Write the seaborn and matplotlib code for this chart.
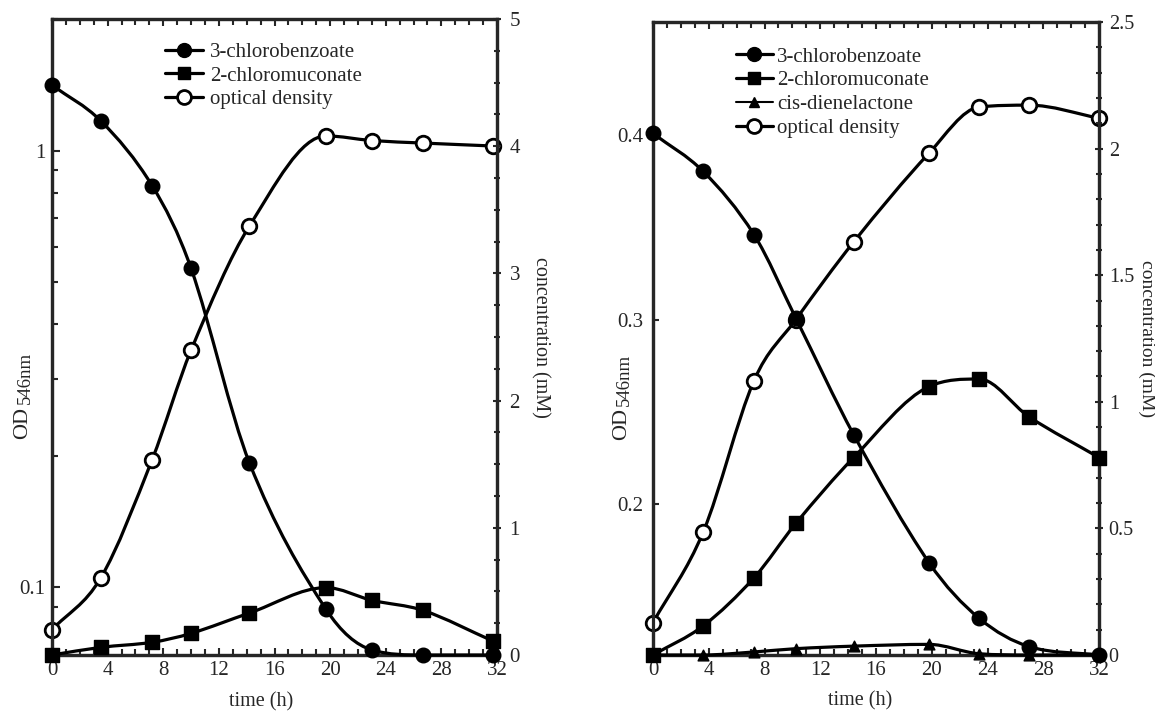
import numpy as np
import matplotlib
matplotlib.use('Agg')
import matplotlib.pyplot as plt
import seaborn as sns
from matplotlib.path import Path
from matplotlib.patches import PathPatch
from matplotlib.lines import Line2D
from matplotlib.ticker import FixedLocator, FixedFormatter, MultipleLocator, NullFormatter

# --- data, left panel ---
time_a = [0, 3.5, 7.2, 10, 14.2, 19.7, 23, 26.7, 31.7]
cb_a = [4.48, 4.20, 3.69, 3.04, 1.51, 0.36, 0.04, 0.0, 0.0]      # 3-chlorobenzoate (mM)
cm_a = [0.0, 0.06, 0.10, 0.17, 0.33, 0.53, 0.43, 0.35, 0.11]     # 2-chloromuconate (mM)
od_a = [0.080, 0.105, 0.196, 0.349, 0.672, 1.08, 1.054, 1.04, 1.024]  # OD546

# --- data, right panel ---
time_b = [0, 3.6, 7.25, 10.25, 14.4, 19.8, 23.4, 27, 32]
cb_b = [2.06, 1.91, 1.66, 1.33, 0.87, 0.365, 0.145, 0.033, 0.0]
cm_b = [0.0, 0.115, 0.305, 0.52, 0.78, 1.06, 1.09, 0.94, 0.78]
dl_b = [0.0, 0.0, 0.012, 0.025, 0.035, 0.042, 0.005, 0.0, 0.0]  # cis-dienelactone
od_b = [0.136, 0.185, 0.267, 0.300, 0.342, 0.390, 0.415, 0.416, 0.409]

time_ticks = [0, 4, 8, 12, 16, 20, 24, 28, 32]
conc_ticks_a = [0, 1, 2, 3, 4, 5]
conc_ticks_b = [0, 0.5, 1, 1.5, 2, 2.5]
conc_labels_b = ['0', '0.5', '1', '1.5', '2', '2.5']
od_ticks_a = [0.1, 1]
od_ticks_b = [0.2, 0.3, 0.4]

sns.set_style('ticks')
plt.rcParams['font.family'] = ['Liberation Serif', 'DejaVu Serif']

LW = 2.3
FS = 15


def smooth_line(ax, x, y, logy=False):
    # smoothed connecting line: cubic hermite (limited central slopes) drawn as bezier segments
    x = np.asarray(x, float)
    y = np.asarray(y, float)
    if logy:
        y = np.log10(y)
    h = np.diff(x)
    d = np.diff(y) / h
    m = np.zeros_like(y)
    m[0], m[-1] = d[0], d[-1]
    for i in range(1, len(y) - 1):
        if d[i - 1] * d[i] > 0:
            c = (y[i + 1] - y[i - 1]) / (x[i + 1] - x[i - 1])
            lim = 3 * min(abs(d[i - 1]), abs(d[i]))
            m[i] = np.sign(c) * min(abs(c), lim)
    verts = [(x[0], y[0])]
    codes = [Path.MOVETO]
    for i in range(len(x) - 1):
        verts += [(x[i] + h[i] / 3, y[i] + m[i] * h[i] / 3),
                  (x[i + 1] - h[i] / 3, y[i + 1] - m[i + 1] * h[i] / 3),
                  (x[i + 1], y[i + 1])]
        codes += [Path.CURVE4] * 3
    verts = np.array(verts)
    if logy:
        verts[:, 1] = 10 ** verts[:, 1]
    ax.add_patch(PathPatch(Path(verts, codes), facecolor='none', edgecolor='black',
                           lw=LW, zorder=3, clip_on=False))


def markers(ax, x, y, marker, face='black', size=110):
    sns.scatterplot(x=x, y=y, ax=ax, marker=marker, s=size, color=face,
                    edgecolor='black', linewidth=2 if face == 'white' else 1,
                    zorder=5, clip_on=False, legend=False)


def style_axes(ax, ax2, xlab_x):
    for a in (ax, ax2):
        for sp in a.spines.values():
            sp.set_linewidth(LW)
            sp.set_visible(True)
    ax.set_xlim(0, 32)
    ax.xaxis.set_major_locator(FixedLocator(time_ticks))
    ax.xaxis.set_minor_locator(MultipleLocator(1))
    ax.tick_params(axis='x', which='both', direction='in', top=True, bottom=True,
                   labelsize=FS, pad=4, width=1.5)
    ax.tick_params(axis='x', which='major', length=5)
    ax.tick_params(axis='x', which='minor', length=4)
    ax.tick_params(axis='y', which='both', direction='in', left=True, right=False,
                   labelsize=FS, width=1.5)
    ax2.tick_params(axis='y', which='both', direction='inout', right=True, left=False,
                    labelsize=FS, width=1.5, pad=6)
    ax2.tick_params(axis='y', which='major', length=6)
    ax2.tick_params(axis='y', which='minor', length=4)
    ax.set_xlabel('time (h)', fontsize=14.5)
    ax.xaxis.set_label_coords(xlab_x, -0.058)


def od_label(ax, xpos, ysplit):
    # "OD" with a lowered, slightly smaller "546nm"
    ax.text(xpos, ysplit, 'OD', transform=ax.transAxes, rotation=90,
            ha='center', va='top', fontsize=16)
    ax.text(xpos + 0.006, ysplit + 0.004, '546nm', transform=ax.transAxes, rotation=90,
            ha='center', va='bottom', fontsize=13.5)


def make_legend(ax, handles, labels, x, y, textpad):
    leg = ax.legend(handles, labels, loc='upper left', bbox_to_anchor=(x, y),
                    frameon=True, fancybox=False, fontsize=FS, handlelength=1.8,
                    handletextpad=textpad, labelspacing=0.2, borderpad=0.05,
                    borderaxespad=0)
    leg.get_frame().set_facecolor('white')
    leg.get_frame().set_edgecolor('none')
    leg.get_frame().set_alpha(1)
    leg.set_zorder(10)
    return leg


fig = plt.figure(figsize=(11.55, 7.15), dpi=100)

# ---------------- left panel ----------------
axA = fig.add_axes([52 / 1155, 60 / 715, 445 / 1155, 636 / 715])
axA2 = axA.twinx()
axA.set_yscale('log')
axA.set_ylim(0.07, 2)
axA.yaxis.set_major_locator(FixedLocator(od_ticks_a))
axA.yaxis.set_major_formatter(FixedFormatter(['0.1', '1']))
axA.yaxis.set_minor_locator(FixedLocator([0.08, 0.09] + [k / 10 for k in range(2, 10)] + [2]))
axA.yaxis.set_minor_formatter(NullFormatter())
axA2.set_ylim(0, 5)
axA2.yaxis.set_major_locator(FixedLocator(conc_ticks_a))
axA2.yaxis.set_minor_locator(MultipleLocator(0.25))

smooth_line(axA, time_a, od_a, logy=True)
smooth_line(axA2, time_a, cb_a)
smooth_line(axA2, time_a, cm_a)
markers(axA, time_a, od_a, 'o', face='white')
markers(axA2, time_a, cb_a, 'o')
markers(axA2, time_a, cm_a, 's', size=100)
style_axes(axA, axA2, 0.47)
axA.tick_params(axis='y', which='major', length=6, pad=5)
axA.tick_params(axis='y', which='minor', length=4)

od_label(axA, -0.066, 0.39)
axA2.set_ylabel('concentration (mM)', fontsize=14.5, rotation=270, va='center')
axA2.yaxis.set_label_coords(1.098, 0.5)

hA = [Line2D([], [], color='black', lw=LW, marker='o', ms=10, mfc='black'),
      Line2D([], [], color='black', lw=LW, marker='s', ms=9, mfc='black'),
      Line2D([], [], color='black', lw=LW, marker='o', ms=10, mfc='white', mew=2)]
make_legend(axA2, hA, ['3-chlorobenzoate', '2-chloromuconate', 'optical density'],
            0.252, 0.965, 0.35)

# ---------------- right panel ----------------
axB = fig.add_axes([653 / 1155, 60 / 715, 446 / 1155, 633 / 715])
axB2 = axB.twinx()
axB.set_ylim(0.1185, 0.461)
axB.yaxis.set_major_locator(FixedLocator(od_ticks_b))
axB.yaxis.set_major_formatter(FixedFormatter(['0.2', '0.3', '0.4']))
axB2.set_ylim(0, 2.5)
axB2.yaxis.set_major_locator(FixedLocator(conc_ticks_b))
axB2.yaxis.set_major_formatter(FixedFormatter(conc_labels_b))
axB2.yaxis.set_minor_locator(MultipleLocator(0.1))

smooth_line(axB, time_b, od_b)
smooth_line(axB2, time_b, cb_b)
smooth_line(axB2, time_b, cm_b)
smooth_line(axB2, time_b, dl_b)
markers(axB, time_b, od_b, 'o', face='white')
markers(axB2, time_b, cb_b, 'o')
markers(axB2, time_b, cm_b, 's', size=100)
markers(axB2, time_b, dl_b, '^', size=60)
style_axes(axB, axB2, 0.465)
axB.tick_params(axis='y', which='major', length=4, pad=7)
axB2.tick_params(axis='y', which='both', pad=4, labelsize=14.5)

od_label(axB, -0.07, 0.39)
axB2.set_ylabel('concentration (mM)', fontsize=14, rotation=270, va='center')
axB2.yaxis.set_label_coords(1.106, 0.5)

hB = [Line2D([], [], color='black', lw=LW, marker='o', ms=10, mfc='black'),
      Line2D([], [], color='black', lw=LW, marker='s', ms=9, mfc='black'),
      Line2D([], [], color='black', lw=1.5, marker='^', ms=7, mfc='black'),
      Line2D([], [], color='black', lw=LW, marker='o', ms=10, mfc='white', mew=2)]
make_legend(axB2, hB, ['3-chlorobenzoate', '2-chloromuconate', 'cis-dienelactone',
                       'optical density'], 0.183, 0.962, 0.2)

fig.savefig('out.png', dpi=100)
